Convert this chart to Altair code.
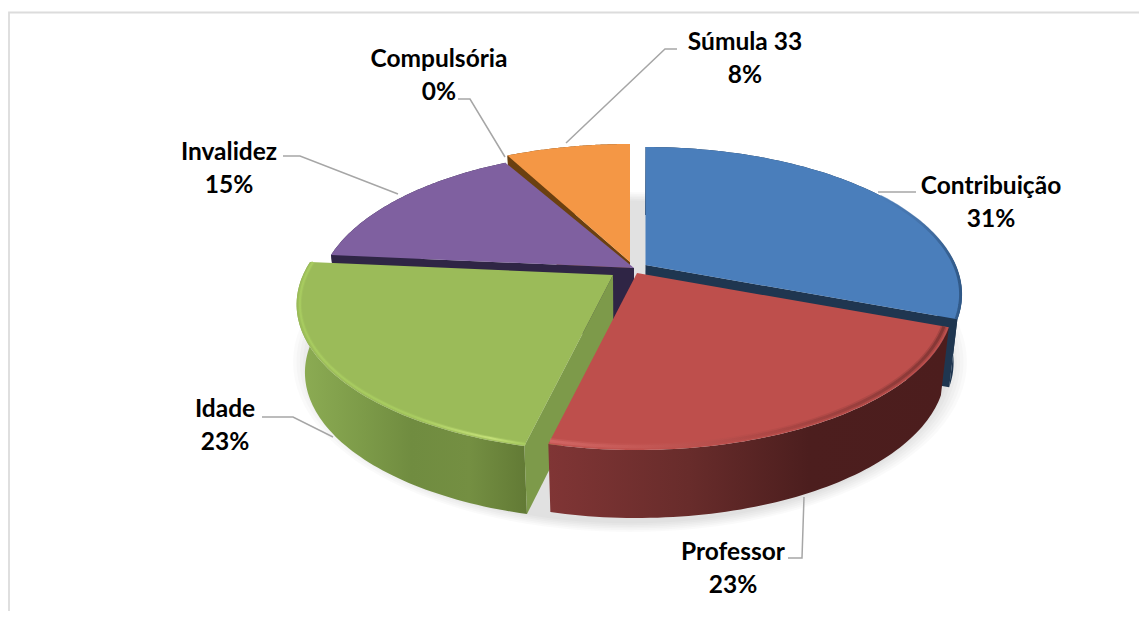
import math
import altair as alt
import pandas as pd

# ---- data ----
categories = ["Contribuição", "Professor", "Idade", "Invalidez", "Compulsória", "Súmula 33"]
values = [30.8, 22.9, 22.8, 15.4, 0.4, 7.7]
percent_labels = ["31%", "23%", "23%", "15%", "0%", "8%"]

# ---- geometry of the tilted, exploded pie ----
RX, RY, K = 310, 141.6, 0.2
CX, DEPTH, SHRINK = 630, 68, 0.975
apex = {"Contribuição": (645.5, 265), "Professor": (637, 273), "Idade": (613, 275),
        "Invalidez": (634, 268), "Compulsória": (634, 268), "Súmula 33": (630, 262)}

top_fill = {"Contribuição": "#4a7ebb", "Professor": "#be4f4c", "Idade": "#9bbb59",
            "Invalidez": "#7f60a0", "Compulsória": "#7f60a0", "Súmula 33": "#f49745"}
cut_fill = {"Contribuição": "#1f3650", "Idade": "#7d9a4a", "Invalidez": "#2f2545", "Súmula 33": "#6b4010"}
cut_at = {"Contribuição": "end", "Idade": "start", "Invalidez": "start", "Súmula 33": "start"}


def grad(stops, x2=1, y2=0):
    return alt.Gradient(gradient="linear", x1=0, y1=0, x2=x2, y2=y2,
                        stops=[alt.GradientStop(offset=o, color=c) for o, c in stops])


side_fill = {
    "Contribuição": grad([(0, "#1f3650"), (1, "#1f3650")]),
    "Professor": grad([(0, "#803535"), (0.35, "#682c2b"), (0.65, "#4c1e1e"), (1, "#4c1d1d")]),
    "Idade": grad([(0, "#8dad54"), (0.3, "#7c9a48"), (0.5, "#708c40"), (0.75, "#748f42"), (1, "#627a35")]),
    "Invalidez": grad([(0, "#2f2545"), (1, "#2f2545")]),
    "Súmula 33": grad([(0, "#6b4010"), (1, "#6b4010")]),
}
rim_stroke = {
    "Contribuição": grad([(0, "#4a7ebb"), (0.5, "#426fa6"), (1, "#2a507c")]),
    "Professor": grad([(0, "#d96e6c"), (0.25, "#c55a57"), (0.55, "#a84543"), (1, "#6e2d2c")]),
    "Idade": grad([(0, "#a8cc60"), (0.5, "#a8cc60"), (0.85, "#c6e27a"), (1, "#a8cc60")]),
}


def pt(theta, a, r=1.0, bottom=False):
    u, v = math.sin(theta) * r, math.cos(theta) * r
    p = 1 / (1 + K * v)
    x, y = a[0] + RX * u * p, a[1] - RY * v * p
    if bottom:
        x, y = CX + (x - CX) * SHRINK, y + DEPTH
    return x, y


def arc(t0, t1, a, r=1.0, bottom=False, n=70):
    return [pt(t0 + (t1 - t0) * i / n, a, r, bottom) for i in range(n + 1)]


X = alt.X("x:Q", axis=None, scale=alt.Scale(domain=[8, 1139], nice=False, zero=False))
Y = alt.Y("y:Q", axis=None, scale=alt.Scale(domain=[611, 8], nice=False, zero=False))


def frame(pts):
    return pd.DataFrame({"x": [p[0] for p in pts], "y": [p[1] for p in pts], "i": range(len(pts))})


def poly(pts, fill, opacity=1.0):
    return alt.Chart(frame(pts)).mark_line(fill=fill, strokeWidth=0, fillOpacity=opacity, clip=False).encode(
        x=X, y=Y, order="i:Q")


def stroke(pts, color, width, opacity=1.0):
    return alt.Chart(frame(pts)).mark_line(stroke=color, strokeWidth=width, strokeCap="butt",
                                           opacity=opacity).encode(x=X, y=Y, order="i:Q")


layers = []
# chart frame
layers.append(stroke([(9, 611), (9, 12.5), (1139, 12.5)], "#dcdcdc", 1.8))

# soft floor shadow
for s in [1.0, 0.99, 0.98, 0.97, 0.96, 0.95]:
    ell = [(630 + 337 * s * math.cos(2 * math.pi * i / 120), 362 + 170 * s * math.sin(2 * math.pi * i / 120))
           for i in range(121)]
    layers.append(poly(ell, "#000000", 0.018))

# slices
total = sum(values)
starts, run = {}, 0
for c, v in zip(categories, values):
    starts[c] = (2 * math.pi * run / total, 2 * math.pi * (run + v) / total)
    run += v

for c in ["Súmula 33", "Invalidez", "Contribuição", "Idade", "Professor"]:
    t0, t1 = starts[c]
    a = apex[c]
    if c in side_fill:
        rim = arc(t0, t1, a)
        layers.append(poly(rim + arc(t1, t0, a, bottom=True), side_fill[c]))
    if c in cut_at:
        th = t0 if cut_at[c] == "start" else t1
        ab = (CX + (a[0] - CX) * SHRINK, a[1] + DEPTH)
        layers.append(poly([a, pt(th, a), pt(th, a, bottom=True), ab], cut_fill[c]))
    layers.append(poly([a] + arc(t0, t1, a) + [a], top_fill[c]))
    if c == "Contribuição":
        layers.append(stroke(arc(t0 + 1.0, t1, a, r=0.996), rim_stroke[c], 3, 0.8))
    elif c == "Idade":
        layers.append(stroke(arc(t0, t1, a, r=0.99), rim_stroke[c], 4, 0.3))
        layers.append(stroke(arc(t0, t1, a, r=0.99), rim_stroke[c], 2, 0.9))
    elif c in rim_stroke:
        layers.append(stroke(arc(t0, t1, a, r=0.985), rim_stroke[c], 6, 0.3))
        layers.append(stroke(arc(t0, t1, a, r=0.985), rim_stroke[c], 3, 0.6))

# leader lines
leaders = [
    [(878, 192), (916, 192)],
    [(804, 497), (802, 558), (788, 558)],
    [(333, 437), (293, 417), (262, 417)],
    [(398, 194), (300, 156), (283, 156)],
    [(505, 157), (470, 99), (458, 99)],
    [(566, 143), (665, 49), (677, 49)],
]
for l in leaders:
    layers.append(stroke(l, "#a6a6a6", 1.5))

# labels
label_x = [991, 733, 225, 229, 439, 745]
label_y = [187, 553, 410, 153, 60, 43]
label_df = pd.DataFrame({
    "x": label_x + label_x,
    "y": label_y + [y + 33 for y in label_y],
    "t": categories + percent_labels,
})
layers.append(alt.Chart(label_df).mark_text(font="Lato", fontWeight="bold", fontSize=24.5, color="#000000",
                                            align="center", baseline="middle").encode(x=X, y=Y, text="t:N"))

chart = alt.layer(*layers).properties(width=1131, height=603, padding=0, background="#ffffff",
                                      autosize=alt.AutoSizeParams(type="none")).configure_view(stroke=None)
chart.save("out.html", embed_options={"renderer": "svg", "actions": False})
